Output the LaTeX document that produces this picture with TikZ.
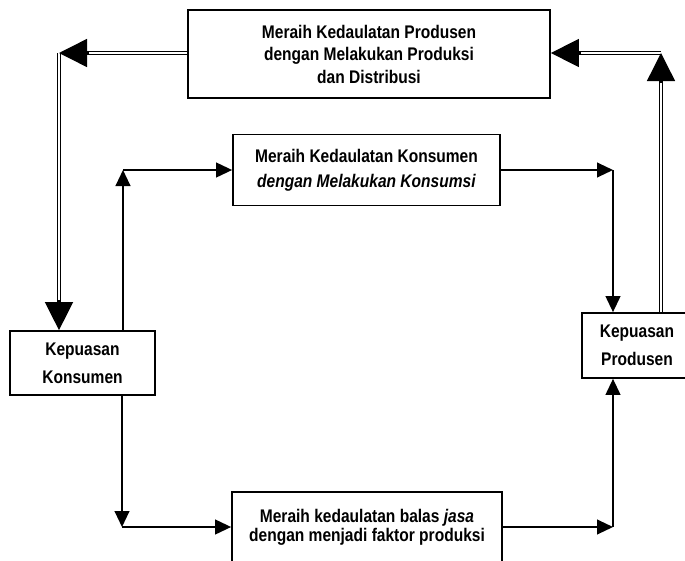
\documentclass[tikz,border=0pt]{standalone}
\usepackage{fontspec}
\setmainfont{Liberation Sans}[FakeStretch=0.85]
\usetikzlibrary{arrows.meta}
\usetikzlibrary{calc}
\tikzset{
    box/.style={draw, rectangle, line width=1.2pt, align=center, inner sep=2pt, font=\bfseries\fontsize{13}{16}\selectfont},
    thinarrow/.style={line width=1.2pt, -{Triangle[length=0.4cm, width=0.37cm]}},
    dblline/.style={double, double distance=1.3pt, line width=1pt, shorten >=0.65cm},
    bigtip/.style={line width=1pt, -{Triangle[length=0.7cm, width=0.7cm, fill=black]}}
}

\begin{document}
\begin{tikzpicture}[x=0.025cm, y=-0.025cm]
    \useasboundingbox (0,0) rectangle (685,560);

    % Define nodes
    \node (top) [box, minimum width=9.05cm, minimum height=2.2cm] at (369,54) {Meraih Kedaulatan Produsen\\dengan Melakukan Produksi\\dan Distribusi};
    \node (mid) [box, minimum width=6.675cm, minimum height=1.775cm, font=\bfseries\fontsize{13}{17.8}\selectfont] at (366.5,170) {Meraih Kedaulatan Konsumen\\\textit{dengan Melakukan Konsumsi}};
    \node (bot) [box, minimum width=6.75cm, minimum height=1.75cm, font=\bfseries\fontsize{13}{13.5}\selectfont] at (367,527) {Meraih kedaulatan balas \textit{jasa}\\dengan menjadi faktor produksi};
    \node (kk) [box, minimum width=3.625cm, minimum height=1.6cm, font=\bfseries\fontsize{13}{20}\selectfont] at (82.5,363) {Kepuasan\\Konsumen};
    \node (kp) [box, minimum width=2.75cm, minimum height=1.625cm, font=\bfseries\fontsize{13}{20}\selectfont] at (637,345.5) {Kepuasan\\Produsen};

    % Corners
    \coordinate (tl) at (59,53);
    \coordinate (tr) at (661,53);
    \coordinate (ml) at (123,170);
    \coordinate (mr) at (613,170);
    \coordinate (bl) at (122,527);
    \coordinate (br) at (613,527);

    % Draw double arrows (line, then its head)
    \draw[dblline] (tl) -- (tl |- kk.north);
    \draw[bigtip] ($(tl |- kk.north)!0.75cm!(tl)$) -- (tl |- kk.north);
    \draw[dblline] (top.west |- tl) -- (tl);
    \draw[bigtip] ($(tl)!0.75cm!(top.west |- tl)$) -- (tl);
    \draw[dblline] (tr) -- (top.east |- tr);
    \draw[bigtip] ($(top.east |- tr)!0.75cm!(tr)$) -- (top.east |- tr);
    \draw[dblline] (tr |- kp.north) -- (tr);
    \draw[bigtip] ($(tr)!0.75cm!(tr |- kp.north)$) -- (tr);

    % Draw arrows
    \draw[thinarrow] (ml |- kk.north) -- (ml);
    \draw[thinarrow] (ml) -- (mid.west);
    \draw[thinarrow] (mid.east) -- (mr);
    \draw[thinarrow] (mr) -- (mr |- kp.north);
    \draw[thinarrow] (bl |- kk.south) -- (bl);
    \draw[thinarrow] (bl) -- (bot.west);
    \draw[thinarrow] (bot.east) -- (br);
    \draw[thinarrow] (br) -- (br |- kp.south);

\end{tikzpicture}
\end{document}
